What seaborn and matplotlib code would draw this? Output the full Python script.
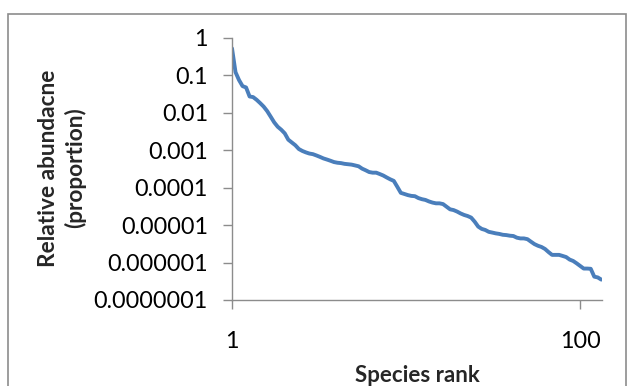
import matplotlib
matplotlib.use("Agg")
import matplotlib.pyplot as plt
import seaborn as sns
import pandas as pd
from matplotlib.patches import Rectangle
from matplotlib.ticker import FixedLocator, FixedFormatter, NullLocator

# ---- data ----
ranks = list(range(1, 107))
abundance = [
    0.52, 0.12, 0.074, 0.051, 0.047, 0.027, 0.026, 0.022, 0.018, 0.0145,
    0.011, 0.0078, 0.0055, 0.0042, 0.0035, 0.0028, 0.0019, 0.0016, 0.00135, 0.00107,
    0.00095, 0.00087, 0.00081, 0.00078, 0.00072, 0.00066, 0.0006, 0.00056, 0.00052, 0.00048,
    0.00046, 0.00045, 0.00043, 0.00042, 0.00041, 0.00039, 0.00037, 0.00032, 0.00029, 0.00026,
    0.00025, 0.00025, 0.00023, 0.00021, 0.000186, 0.000166, 0.000151, 0.000105, 0.0000724, 0.0000676,
    0.000063, 0.000060, 0.0000589, 0.0000525, 0.000049, 0.0000468, 0.0000427, 0.0000398, 0.000038, 0.000038,
    0.0000363, 0.0000309, 0.0000263, 0.0000251, 0.0000229, 0.0000204, 0.0000186, 0.0000174, 0.0000158, 0.0000123,
    0.0000091, 0.0000079, 0.0000074, 0.0000066, 0.0000063, 0.000006, 0.0000058, 0.0000055, 0.0000054, 0.0000052,
    0.0000051, 0.0000046, 0.0000044, 0.0000044, 0.0000042, 0.0000036, 0.0000031, 0.0000028, 0.0000026, 0.0000023,
    0.0000019, 0.0000016, 0.0000016, 0.0000016, 0.0000015, 0.0000014, 0.0000012, 0.0000011, 0.00000095, 0.00000081,
    0.00000069, 0.00000069, 0.00000068, 0.00000042, 0.0000004, 0.00000035,
]
y_ticks = [1, 0.1, 0.01, 0.001, 0.0001, 0.00001, 0.000001, 0.0000001]
y_tick_labels = ["1", "0.1", "0.01", "0.001", "0.0001", "0.00001", "0.000001", "0.0000001"]
x_ticks = [1, 100]
x_tick_labels = ["1", "100"]
x_label = "Species rank"
y_label = "Relative abundacne\n(proportion)"

df = pd.DataFrame({"rank": ranks, "abundance": abundance})

sns.set_style("white")
plt.rcParams["font.family"] = ["Lato", "DejaVu Sans"]

W, H = 627, 386
fig = plt.figure(figsize=(W / 100, H / 100), dpi=100)
fig.patch.set_facecolor("white")

# outer chart border (cropped at bottom/right like the reference)
fig.patches.append(Rectangle((8 / W, -0.05), (626 - 8) / W, 1.05 - 14 / H,
                             transform=fig.transFigure, fill=False,
                             edgecolor="#8c8c8c", linewidth=1.2))

ax = fig.add_axes([232 / W, 1 - 300 / H, (602 - 232) / W, (300 - 37.7) / H])
sns.lineplot(data=df, x="rank", y="abundance", ax=ax, color="#4A7EBB",
             linewidth=2.8, legend=False)
ax.set_yscale("log")
ax.set_ylim(1e-7, 1)
ax.set_xlim(1, 106.2)

ax.yaxis.set_major_locator(FixedLocator(y_ticks))
ax.yaxis.set_major_formatter(FixedFormatter(y_tick_labels))
ax.yaxis.set_minor_locator(NullLocator())
ax.xaxis.set_major_locator(FixedLocator(x_ticks))
ax.xaxis.set_major_formatter(FixedFormatter(x_tick_labels))
ax.xaxis.set_minor_locator(NullLocator())

for s in ["top", "right"]:
    ax.spines[s].set_visible(False)
for s in ["left", "bottom"]:
    ax.spines[s].set_color("#8c8c8c")
    ax.spines[s].set_linewidth(1.0)

ax.tick_params(axis="y", direction="out", length=6.3, width=1, color="#8c8c8c",
               pad=11, labelsize=16.8, labelcolor="black", left=True)
ax.tick_params(axis="x", direction="out", length=6.3, width=1, color="#8c8c8c",
               pad=16, labelsize=16.8, labelcolor="black", bottom=True)
ax.set_xlabel("")
ax.set_ylabel("")

fig.text(62 / W, 1 - 168 / H, y_label, rotation=90, ha="center", va="center",
         multialignment="center", fontsize=16.3, fontweight="bold", linespacing=1.3)
fig.text(417 / W, 1 - 375 / H, x_label, ha="center", va="center",
         fontsize=16, fontweight="bold")

fig.savefig("out.png", dpi=100, facecolor="white")
